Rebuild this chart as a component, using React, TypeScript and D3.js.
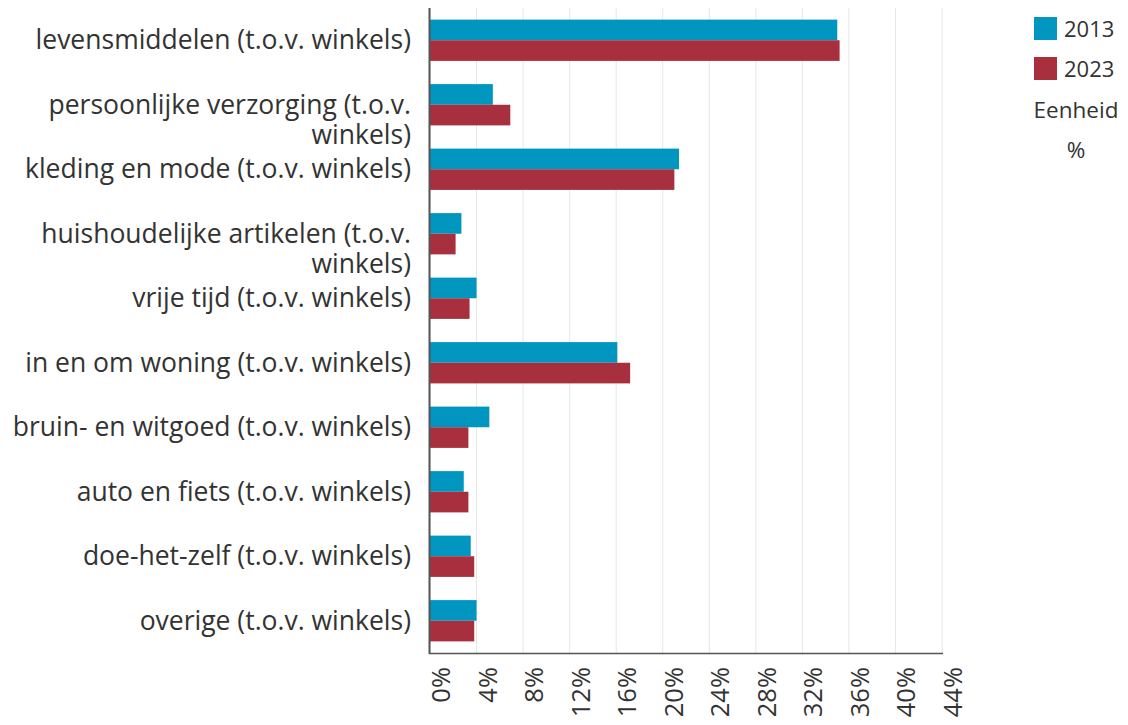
import * as d3 from "d3";

const categories = [
  ["levensmiddelen (t.o.v. winkels)"],
  ["persoonlijke verzorging (t.o.v.", "winkels)"],
  ["kleding en mode (t.o.v. winkels)"],
  ["huishoudelijke artikelen (t.o.v.", "winkels)"],
  ["vrije tijd (t.o.v. winkels)"],
  ["in en om woning (t.o.v. winkels)"],
  ["bruin- en witgoed (t.o.v. winkels)"],
  ["auto en fiets (t.o.v. winkels)"],
  ["doe-het-zelf (t.o.v. winkels)"],
  ["overige (t.o.v. winkels)"],
];

const values2013 = [35.0, 5.4, 21.4, 2.7, 4.0, 16.1, 5.1, 2.9, 3.5, 4.0];
const values2023 = [35.2, 6.9, 21.0, 2.2, 3.4, 17.2, 3.3, 3.3, 3.8, 3.8];

const seriesNames = ["2013", "2023"];
const seriesColors = ["#0096c0", "#a72f3e"];
const xTicks = [0, 4, 8, 12, 16, 20, 24, 28, 32, 36, 40, 44];

const W = 1128;
const H = 725;
const left = 430;
const right = 942;
const top = 8;
const bottom = 653;
const font = "'Open Sans', sans-serif";

export default function App() {
  const x = d3.scaleLinear().domain([0, 44]).range([left, right]);
  const y = d3
    .scaleBand<number>()
    .domain(d3.range(categories.length))
    .range([top, bottom])
    .paddingInner(0.36)
    .paddingOuter(0.18);
  const inner = d3.scaleBand<number>().domain([0, 1]).range([0, y.bandwidth()]);
  const series = [values2013, values2023];

  return (
    <svg
      width={W}
      height={H}
      style={{ position: "absolute", left: 0, top: 0, background: "#fff" }}
      fontFamily={font}
    >
      {xTicks.map((t) => (
        <line key={"g" + t} x1={x(t)} x2={x(t)} y1={top} y2={bottom} stroke="#e6e6e6" strokeWidth={1} />
      ))}
      {series.map((vals, si) =>
        vals.map((v, i) => (
          <rect
            key={si + "-" + i}
            x={x(0)}
            y={(y(i) ?? 0) + (inner(si) ?? 0)}
            width={x(v) - x(0)}
            height={inner.bandwidth()}
            fill={seriesColors[si]}
          />
        ))
      )}
      <line x1={left - 0.5} x2={left - 0.5} y1={top} y2={bottom + 1} stroke="#555" strokeWidth={2} />
      <line x1={left - 1} x2={right + 1} y1={bottom + 0.5} y2={bottom + 0.5} stroke="#555" strokeWidth={1.5} />
      {categories.map((lines, i) => {
        const cy = (y(i) ?? 0) + y.bandwidth() / 2;
        return (
          <text key={"c" + i} textAnchor="end" fontSize={26.5} fill="#333">
            {lines.map((ln, j) => (
              <tspan key={j} x={411} y={cy + 9 + j * 30}>
                {ln}
              </tspan>
            ))}
          </text>
        );
      })}
      {xTicks.map((t) => (
        <text
          key={"t" + t}
          transform={`translate(${x(t) + 20},${667}) rotate(-90)`}
          textAnchor="end"
          fontSize={25.5}
          fill="#333"
        >
          {t + "%"}
        </text>
      ))}
      {seriesNames.map((n, i) => (
        <g key={"l" + n} transform={`translate(1034,${17 + i * 40})`}>
          <rect width={23} height={23} fill={seriesColors[i]} />
          <text x={30} y={20} fontSize={22} fill="#333">
            {n}
          </text>
        </g>
      ))}
      <text x={1076} y={118} textAnchor="middle" fontSize={22.5} fill="#333">
        Eenheid
      </text>
      <text x={1076} y={158} textAnchor="middle" fontSize={22.5} fill="#333">
        %
      </text>
    </svg>
  );
}
